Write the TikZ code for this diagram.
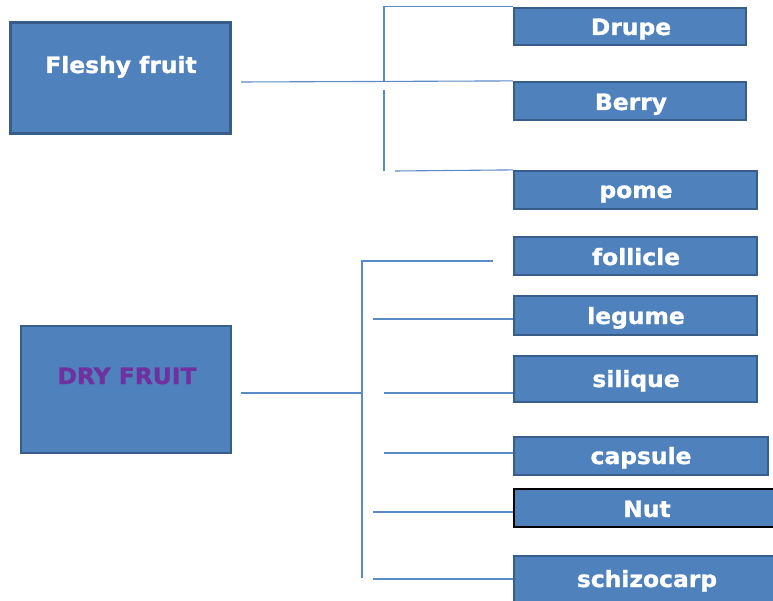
\documentclass[tikz,border=0pt]{standalone}
\usepackage{fontspec}
\setmainfont{DejaVu Sans}
\newfontfamily\lblfont{DejaVu Sans}[UprightFont=*-Bold, FakeBold=1.3, FakeStretch=1.04]
\definecolor{boxfill}{HTML}{4F81BD}
\definecolor{boxedge}{HTML}{385D8A}
\definecolor{linecol}{HTML}{5B8BC7}
\definecolor{dryfont}{HTML}{7030A0}
\tikzset{
  fruitbox/.style={draw=boxedge, line width=2.2pt, fill=boxfill, inner sep=0pt, minimum width=#1},
  lbl/.style={text=white, font=\lblfont\fontsize{22.5}{26}\selectfont, inner sep=0pt, anchor=base},
  conn/.style={draw=linecol, line width=1.1pt}
}
\begin{document}
\begin{tikzpicture}[x=1pt,y=-1pt]
\useasboundingbox (0,0) rectangle (773,601);
\clip (0,0) rectangle (773,601);
% main boxes
\node[fruitbox=220pt, minimum height=111pt] (fleshy) at (120.5,78) {};
\node[lbl] (fleshyt) at (121,73) {Fleshy fruit};
\node[fruitbox=210pt, minimum height=127pt] (dry) at (126,389.5) {};
\node[lbl, text=dryfont] (dryt) at (127,384) {DRY FRUIT};
% children
\node[fruitbox=232pt, minimum height=37pt] (drupe) at (630,26.5) {};
\node[lbl] at (631,35) {Drupe};
\node[fruitbox=232pt, minimum height=38pt] (berry) at (630,101) {};
\node[lbl] at (631,110) {Berry};
\node[fruitbox=243pt, minimum height=38pt] (pome) at (635.5,190) {};
\node[lbl] at (636,198) {pome};
\node[fruitbox=243pt, minimum height=38pt] (follicle) at (635.5,256) {};
\node[lbl] at (636,265) {follicle};
\node[fruitbox=243pt, minimum height=39pt] (legume) at (635.5,315.5) {};
\node[lbl] at (636,324) {legume};
\node[fruitbox=243pt, minimum height=46pt] (silique) at (635.5,379) {};
\node[lbl] at (636,387) {silique};
\node[fruitbox=254pt, minimum height=38pt] (capsule) at (641,456) {};
\node[lbl] at (641,464) {capsule};
\node[fruitbox=266pt, minimum height=38pt, draw=black] (nut) at (647,508) {};
\node[lbl] at (647,517) {Nut};
\node[fruitbox=266pt, minimum height=48pt] (schizo) at (647,580) {};
\node[lbl] at (647,587) {schizocarp};
% connector coordinates
\coordinate (f1) at (241,82);
\coordinate (tv) at (384,82);
\coordinate (tv2) at (384,90);
\coordinate (tv3) at (384,171);
\coordinate (ph) at (395,171);
\coordinate (d1) at (241,393);
\coordinate (bv1) at (362,261);
\coordinate (bv2) at (362,578);
\coordinate (fe) at (493,261);
\coordinate (lg) at (373,319);
\coordinate (sl) at (384,393);
\coordinate (cp) at (384,453);
\coordinate (nt) at (373,512);
\coordinate (sc) at (373,579);
% top connectors
\draw[conn] (f1) -- (berry.north west);
\draw[conn] (tv) -- (tv |- drupe.north west) -- (drupe.north west);
\draw[conn] (tv2) -- (tv3);
\draw[conn] (ph) -- (pome.north west);
% bottom connectors
\draw[conn] (d1) -- (d1 -| bv1);
\draw[conn] (bv2) -- (bv1) -- (fe);
\draw[conn] (lg) -- (lg -| legume.west);
\draw[conn] (sl) -- (sl -| silique.west);
\draw[conn] (cp) -- (cp -| capsule.west);
\draw[conn] (nt) -- (nt -| nut.west);
\draw[conn] (sc) -- (sc -| schizo.west);
\end{tikzpicture}
\end{document}
